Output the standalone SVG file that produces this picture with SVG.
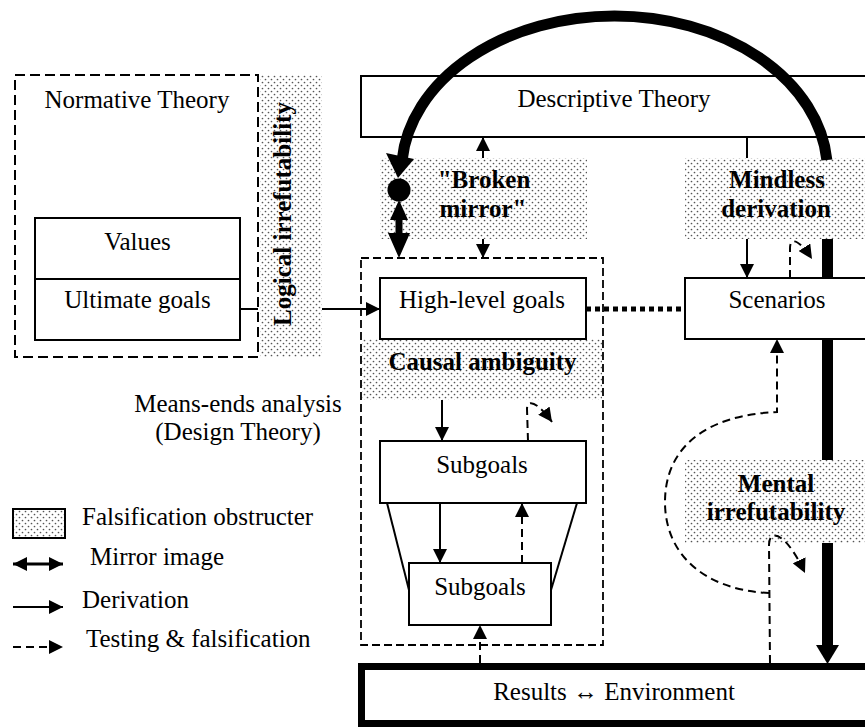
<svg xmlns="http://www.w3.org/2000/svg" width="865" height="727" viewBox="0 0 865 727">
<defs>
<pattern id="dots" width="6" height="6" patternUnits="userSpaceOnUse">
<rect width="6" height="6" fill="#fff"/>
<circle cx="1.5" cy="1.5" r="0.85" fill="#555"/>
<circle cx="4.5" cy="4.5" r="0.85" fill="#555"/>
</pattern>
<marker id="ah" markerUnits="userSpaceOnUse" markerWidth="14" markerHeight="14" refX="14" refY="7" orient="auto-start-reverse" viewBox="0 0 14 14"><path d="M0,0 L14,7 L0,14 z" fill="#000"/></marker>
</defs>
<style>
text{font-family:"Liberation Serif","Times New Roman",serif;font-size:25px;fill:#000}
.b{font-weight:bold}
.m{text-anchor:middle}
.box{fill:#fff;stroke:#000;stroke-width:2}
.dbox{fill:none;stroke:#000;stroke-width:2;stroke-dasharray:10 5}
.dbox2{fill:none;stroke:#000;stroke-width:1.8;stroke-dasharray:8 4}
.stip{fill:url(#dots);stroke:none}
.ln{fill:none;stroke:#000;stroke-width:2}
.ds{fill:none;stroke:#000;stroke-width:2;stroke-dasharray:8 5}
.arr{marker-end:url(#ah)}
.thick{fill:none;stroke:#000;stroke-width:11}
</style>
<rect width="865" height="727" fill="#fff"/>

<g id="normative-theory">
<rect class="dbox" x="15" y="75" width="243" height="282"/>
<text class="m" x="137" y="108">Normative Theory</text>
</g>
<g id="values-ultimate-goals">
<rect class="box" x="35" y="218" width="205" height="122"/>
<line x1="35" y1="279" x2="240" y2="279" stroke="#000" stroke-width="2"/>
<text class="m" x="137.5" y="250">Values</text>
<text class="m" x="137.5" y="308">Ultimate goals</text>
</g>
<g id="logical-irrefutability">
<rect class="stip" x="260" y="75" width="62" height="282"/>
<text class="b m" transform="translate(291 214) rotate(-90)">Logical irrefutability</text>
</g>
<g id="descriptive-theory">
<rect class="box" x="361" y="76" width="512" height="61"/>
<text class="m" x="614" y="107">Descriptive Theory</text>
</g>
<g id="broken-mirror">
<rect class="stip" x="380" y="158" width="207" height="81"/>
<text class="b m" x="484" y="188">"Broken</text>
<text class="b m" x="483" y="217">mirror"</text>
</g>
<g id="mindless-derivation">
<rect class="stip" x="685" y="158" width="185" height="81"/>
<text class="b m" x="777" y="188">Mindless</text>
<text class="b m" x="776" y="217">derivation</text>
</g>
<g id="causal-ambiguity">
<rect class="stip" x="362" y="339" width="240" height="61"/>
<text class="b m" x="482.5" y="370">Causal ambiguity</text>
</g>
<g id="design-theory">
<rect class="dbox2" x="361" y="258" width="242" height="387"/>
<text class="m" x="238" y="412">Means-ends analysis</text>
<text class="m" x="238" y="440">(Design Theory)</text>
</g>
<g id="high-level-goals">
<rect class="box" x="380" y="278" width="206" height="61"/>
<text class="m" x="482" y="308">High-level goals</text>
</g>
<g id="scenarios">
<rect class="box" x="685" y="278" width="190" height="61"/>
<text class="m" x="777" y="308">Scenarios</text>
</g>
<g id="subgoals-1">
<rect class="box" x="380" y="441" width="206" height="62"/>
<text class="m" x="482" y="473">Subgoals</text>
</g>
<g id="subgoals-2">
<rect class="box" x="409" y="563" width="142" height="62"/>
<text class="m" x="480" y="595">Subgoals</text>
</g>
<g id="mental-irrefutability">
<rect class="stip" x="685" y="460" width="185" height="83"/>
<text class="b m" x="776" y="492">Mental</text>
<text class="b m" x="776" y="520">irrefutability</text>
</g>
<g id="results-environment">
<rect x="361.5" y="666.5" width="515" height="57" fill="#fff" stroke="#000" stroke-width="7"/>
<text class="m" x="614" y="700">Results ↔ Environment</text>
</g>
<g id="legend">
<rect x="13" y="509" width="52" height="29" fill="url(#dots)" stroke="#000" stroke-width="2"/>
<text x="82" y="525">Falsification obstructer</text>
<line x1="13" y1="564" x2="63" y2="564" stroke="#000" stroke-width="3" marker-start="url(#ah)" marker-end="url(#ah)"/>
<text x="90" y="565">Mirror image</text>
<line class="ln arr" x1="13" y1="607" x2="63" y2="607"/>
<text x="82" y="608">Derivation</text>
<line class="ds arr" x1="13" y1="647" x2="63" y2="647"/>
<text x="86" y="647">Testing &amp; falsification</text>
</g>

<g id="connectors">
<path class="thick" d="M 826.87 160 A 213 156 0 0 0 402.13 160"/>
<polygon points="386,153 414,159 398,178" fill="#000"/>
<circle cx="399" cy="190" r="11.5" fill="#000"/>
<polygon points="399,200 408,220 402.5,220 402.5,233 410,233 399,258 388,233 395.5,233 395.5,220 390,220" fill="#000"/>
<line class="thick" x1="827.5" y1="239" x2="827.5" y2="278"/>
<line class="thick" x1="827.5" y1="339" x2="827.5" y2="460"/>
<line class="thick" x1="827.5" y1="543" x2="827.5" y2="646"/>
<polygon points="816,645 839,645 827.5,664" fill="#000"/>
<line class="ln" x1="240" y1="309" x2="258" y2="309"/>
<line class="ln arr" x1="322" y1="309" x2="380" y2="309"/>
<line class="ln" x1="483" y1="158" x2="483" y2="137" marker-end="url(#ah)"/>
<line class="ln arr" x1="483" y1="239" x2="483" y2="258"/>
<line class="ln" x1="747" y1="137" x2="747" y2="158"/>
<line class="ln arr" x1="747" y1="239" x2="747" y2="278"/>
<line x1="586" y1="309" x2="685" y2="309" stroke="#000" stroke-width="5" stroke-dasharray="5 4"/>
<line class="ln arr" x1="442" y1="400" x2="442" y2="441"/>
<line class="ln arr" x1="440" y1="503" x2="440" y2="563"/>
<line class="ds arr" x1="522" y1="563" x2="522" y2="503"/>
<line class="ln" x1="387" y1="503" x2="409" y2="590"/>
<line class="ln" x1="577" y1="503" x2="551" y2="590"/>
<path class="ds arr" d="M 528 441 L 527 409 C 527 399 537 401 552 422"/>
<line class="ds arr" x1="480" y1="663" x2="480" y2="625"/>
<path class="ds arr" d="M 790 278 L 790 248 C 790 237 799 239 812 259"/>
<path class="ds arr" d="M 770 663 L 769 545 C 769 528 786 532 805 573"/>
<path class="ds arr" d="M 769 593 C 705 590 665 555 665 502 C 665 448 705 415 777 412 L 777 339"/>
</g>
</svg>
